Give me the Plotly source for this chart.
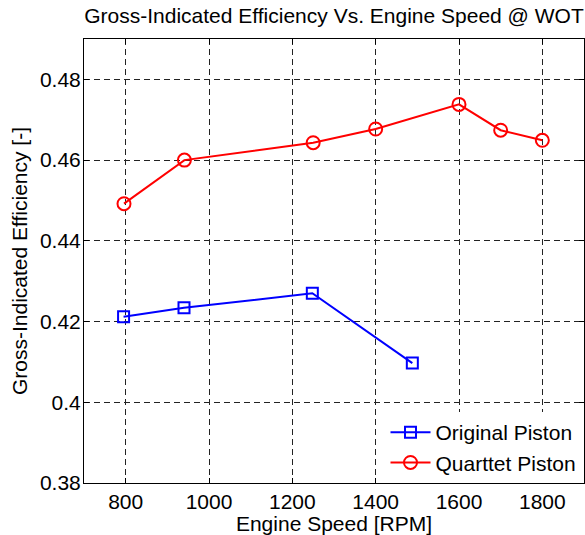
import plotly.graph_objects as go

orig_rpm = [795, 940, 1248, 1488]
orig_eff = [0.4212, 0.4234, 0.4270, 0.4097]
quart_rpm = [796, 941, 1250, 1400, 1600, 1700, 1800]
quart_eff = [0.4492, 0.4600, 0.4643, 0.4677, 0.4738, 0.4674, 0.4649]

x_ticks = [800, 1000, 1200, 1400, 1600, 1800]
y_ticks = [0.38, 0.40, 0.42, 0.44, 0.46, 0.48]
y_ticklabels = ["0.38", "0.4", "0.42", "0.44", "0.46", "0.48"]

fig = go.Figure()
fig.add_trace(go.Scatter(
    x=orig_rpm, y=orig_eff, mode="lines+markers", name="Original Piston",
    line=dict(color="#0000ff", width=2),
    marker=dict(symbol="square-open", size=11, color="#0000ff", line=dict(width=2)),
))
fig.add_trace(go.Scatter(
    x=quart_rpm, y=quart_eff, mode="lines+markers", name="Quarttet Piston",
    line=dict(color="#ff0000", width=2),
    marker=dict(symbol="circle-open", size=13, color="#ff0000", line=dict(width=2)),
))

font = "Liberation Sans, Arial, sans-serif"
FS = 21
W, H = 585, 535
axis_common = dict(
    showline=True, linecolor="black", linewidth=1, mirror="ticks",
    ticks="inside", ticklen=5, tickcolor="black",
    showgrid=True, gridcolor="#222222", griddash="6px,4px", gridwidth=1,
    zeroline=False, tickfont=dict(family=font, size=FS, color="black"),
    automargin=False,
)
fig.update_xaxes(range=[700, 1900], tickvals=x_ticks,
                 title=dict(text="Engine Speed [RPM]", font=dict(family=font, size=FS, color="black"), standoff=2),
                 **axis_common)
fig.update_yaxes(range=[0.38, 0.49], tickvals=y_ticks, ticktext=y_ticklabels,
                 ticklabelstandoff=-2,
                 title=dict(text="Gross-Indicated Efficiency [-]", font=dict(family=font, size=FS, color="black"), standoff=6),
                 **axis_common)

fig.update_layout(
    width=W, height=H,
    margin=dict(l=84, r=1, t=39, b=52),
    paper_bgcolor="white", plot_bgcolor="white",
    title=dict(text="Gross-Indicated Efficiency Vs. Engine Speed @ WOT",
               font=dict(family=font, size=FS, color="black"),
               xref="paper", x=0.5, xanchor="center",
               yref="container", y=1 - 16 / H, yanchor="middle", automargin=False),
    legend=dict(x=0.995, y=0, xanchor="right", yanchor="bottom",
                bgcolor="white", borderwidth=0,
                font=dict(family=font, size=FS, color="black"),
                tracegroupgap=0, itemwidth=40),
    showlegend=True,
)

fig.write_html(
    "out.html",
    config={"displayModeBar": False},
    post_script="document.body.style.margin='0';document.body.style.overflow='hidden';",
)
